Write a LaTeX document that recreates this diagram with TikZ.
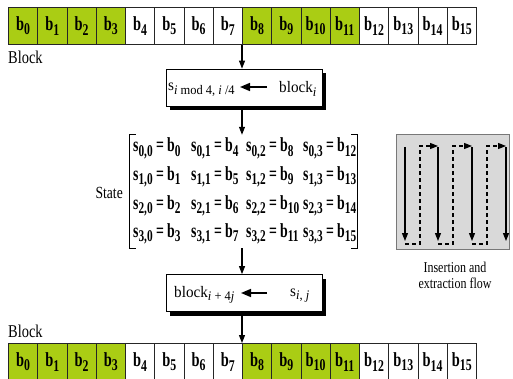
\documentclass[tikz,border=0pt]{standalone}
\usepackage{fontspec}
\setmainfont{Liberation Serif}[FakeStretch=0.8]
\newfontfamily\cellfont{Liberation Serif}[FakeStretch=0.72]
\newfontfamily\entryfont{Liberation Serif}[FakeStretch=0.69]
\newfontfamily\boxfont{Liberation Serif}[FakeStretch=0.95]
\usetikzlibrary{arrows.meta,shadows}
\definecolor{cellgreen}{RGB}{170,205,20}
\definecolor{panelgray}{RGB}{217,217,217}
\definecolor{paneledge}{RGB}{120,120,120}
% lowered index, a little smaller than the running text
\makeatletter
\newcommand\dn[1]{\raisebox{-0.22em}{\fontsize{\fpeval{0.82*\f@size}}{0}\selectfont #1}}
\makeatother
\tikzset{
  bytecell/.style={draw=black!85, line width=0.8pt, minimum width=29.25pt,
    minimum height=37pt, inner sep=0pt, anchor=north west,
    font=\cellfont\bfseries\fontsize{20}{22}\selectfont},
  entry/.style={anchor=base west, inner sep=0pt,
    font=\entryfont\bfseries\fontsize{20}{22}\selectfont},
  label/.style={inner sep=0pt, font=\fontsize{18}{20}\selectfont},
  stepbox/.style={draw=black, line width=0.8pt, fill=white, minimum width=156pt,
    minimum height=37pt, inner sep=0pt,
    drop shadow={shadow xshift=4pt, shadow yshift=-4pt, fill=black, opacity=1}},
  boxtext/.style={anchor=base west, inner sep=0pt, font=\boxfont\fontsize{16}{18}\selectfont},
  flow/.style={-{Triangle[width=6pt,length=8pt]}, line width=1.1pt},
  inarrow/.style={-{Triangle[width=8pt,length=10pt]}, line width=1.5pt},
  down/.style={-{Triangle[width=6pt,length=8pt]}, line width=1.1pt},
  dashflow/.style={-{Triangle[width=6pt,length=8pt]}, line width=1.1pt,
    dash pattern=on 4pt off 3pt},
}
\begin{document}
\begin{tikzpicture}[x=1pt,y=-1pt]
\useasboundingbox (0,0) rectangle (513,379);

% input and output byte rows
\foreach \k in {0,...,15} {
  \pgfmathtruncatemacro\grp{mod(floor(\k/4),2)}
  \ifnum\grp=0 \def\fillc{cellgreen}\else\def\fillc{white}\fi
  \node[bytecell, fill=\fillc] (t\k) at ({8+29.25*\k},7) {b\dn{\k}};
  \node[bytecell, fill=\fillc] (u\k) at ({8+29.25*\k},343) {b\dn{\k}};
}
\node[label, anchor=base west] (blkin) at (8,64) {Block};
\node[label, anchor=base west] (blkout) at (8,337) {Block};

% insertion step
\node[stepbox] (m1) at (244,87.5) {};
\node[boxtext] (m1l) at (168,91) {s\dn{\textit{i} mod 4, \textit{i} /4}};
\node[boxtext] (m1r) at (279,93) {block\dn{\textit{i}}};
\coordinate (m1a) at (267,87);
\coordinate (m1b) at (240,87);
\draw[inarrow] (m1a) -- (m1b);

% state matrix
\node[minimum width=227pt, minimum height=113pt, inner sep=0pt] (st) at (243.5,191.5) {};
\draw[line width=0.9pt] ([xshift=6pt]st.north west) -- (st.north west) -- (st.south west) -- ([xshift=6pt]st.south west);
\draw[line width=0.9pt] ([xshift=-6pt]st.north east) -- (st.north east) -- (st.south east) -- ([xshift=-6pt]st.south east);
\node[label, anchor=east, font=\fontsize{17}{19}\selectfont] (stlbl) at (123,193) {State};
\foreach \i/\y in {0/152,1/180.5,2/209,3/237.5} {
  \foreach \j/\x in {0/133,1/191,2/246,3/303} {
    \pgfmathtruncatemacro\b{\i+4*\j}
    \node[entry] (e\i\j) at (\x,\y) {s\dn{\i,\j}\,=\,b\dn{\b}};
  }
}

% extraction step
\node[stepbox] (m2) at (244,293) {};
\node[boxtext] (m2l) at (174,297) {block\dn{\textit{i} + 4\textit{j}}};
\node[boxtext] (m2r) at (290,296) {s\dn{\textit{i}, \textit{j}}};
\coordinate (m2a) at (267,293);
\coordinate (m2b) at (241,293);
\draw[inarrow] (m2a) -- (m2b);

% vertical flow
\draw[down] (t8.south west) -- (t8.south west |- m1.north);
\draw[down] (t8.south west |- m1.south) -- (t8.south west |- st.north);
\draw[down] (t8.south west |- st.south) -- (t8.south west |- m2.north);
\draw[down] (t8.south west |- m2.south) -- (u8.north west);

% insertion and extraction order panel
\node[draw=paneledge, fill=panelgray, line width=0.8pt, minimum width=113pt,
  minimum height=115pt, inner sep=0pt] (pn) at (452.5,191.5) {};
\foreach \x in {405,438,472,506} {
  \draw[flow] (\x,147) -- (\x,241);
}
\foreach \x/\nx in {405/438,438/472,472/506} {
  \draw[dashflow] (\x,244) -- ({\x+15},244) -- ({\x+15},146) -- (\nx,146);
}
\node[align=center, inner sep=0pt, font=\fontsize{15}{16}\selectfont] (cap) at (455,275)
  {Insertion and\\extraction flow};
\end{tikzpicture}
\end{document}
